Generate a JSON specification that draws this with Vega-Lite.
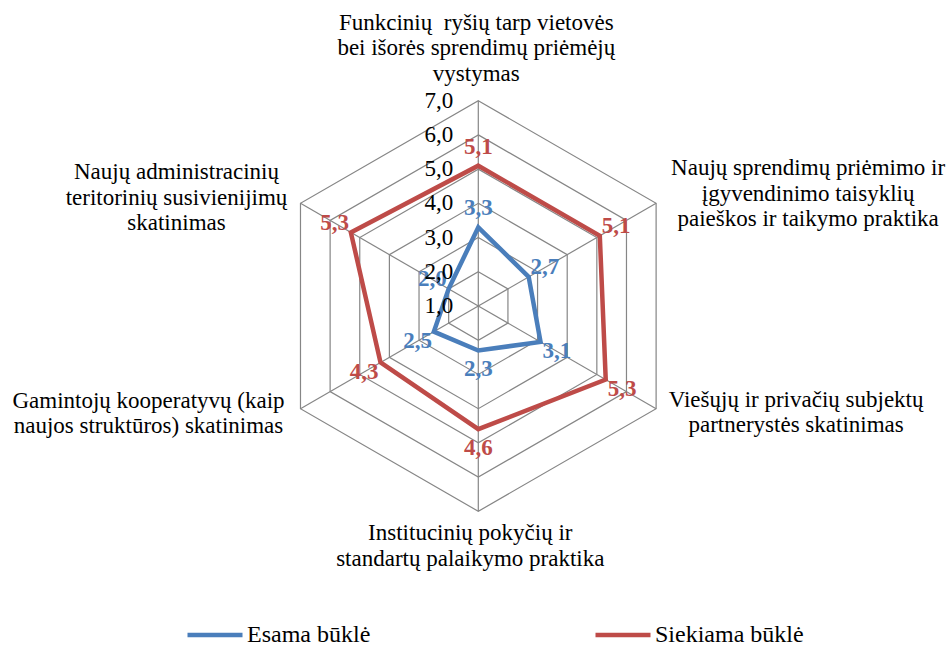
{
  "$schema": "https://vega.github.io/schema/vega-lite/v6.json",
  "width": 949,
  "height": 646,
  "autosize": {"type": "none"},
  "padding": 0,
  "background": "white",
  "config": {"view": {"stroke": null}, "font": "Liberation Serif", "text": {"font": "Liberation Serif"}},
  "datasets": {
    "axes": [
      {"k": 0, "label": "Funkcinių\u00a0 ryšių tarp vietovės\nbei išorės sprendimų priėmėjų\nvystymas"},
      {"k": 1, "label": "Naujų sprendimų priėmimo ir\nįgyvendinimo taisyklių\npaieškos ir taikymo praktika"},
      {"k": 2, "label": "Viešųjų ir privačių subjektų\npartnerystės skatinimas"},
      {"k": 3, "label": "Institucinių pokyčių ir\nstandartų palaikymo praktika"},
      {"k": 4, "label": "Gamintojų kooperatyvų (kaip\nnaujos struktūros) skatinimas"},
      {"k": 5, "label": "Naujų administracinių\nteritorinių susivienijimų\nskatinimas"}
    ],
    "ticks": [
      {"v": 1, "k": [0, 1, 2, 3, 4, 5]},
      {"v": 2, "k": [0, 1, 2, 3, 4, 5]},
      {"v": 3, "k": [0, 1, 2, 3, 4, 5]},
      {"v": 4, "k": [0, 1, 2, 3, 4, 5]},
      {"v": 5, "k": [0, 1, 2, 3, 4, 5]},
      {"v": 6, "k": [0, 1, 2, 3, 4, 5]},
      {"v": 7, "k": [0, 1, 2, 3, 4, 5]}
    ],
    "series": [
      {"series": "Esama būklė", "k": 0, "value": 3.3},
      {"series": "Esama būklė", "k": 1, "value": 2.7},
      {"series": "Esama būklė", "k": 2, "value": 3.1},
      {"series": "Esama būklė", "k": 3, "value": 2.3},
      {"series": "Esama būklė", "k": 4, "value": 2.5},
      {"series": "Esama būklė", "k": 5, "value": 2.0},
      {"series": "Siekiama būklė", "k": 0, "value": 5.1},
      {"series": "Siekiama būklė", "k": 1, "value": 5.1},
      {"series": "Siekiama būklė", "k": 2, "value": 5.3},
      {"series": "Siekiama būklė", "k": 3, "value": 4.6},
      {"series": "Siekiama būklė", "k": 4, "value": 4.3},
      {"series": "Siekiama būklė", "k": 5, "value": 5.3}
    ]
  },
  "resolve": {"legend": {"color": "independent"}},
  "layer": [
    {
      "data": {"name": "ticks"},
      "transform": [
        {"filter": "datum.v > 1"},
        {"flatten": ["k"]},
        {"calculate": "(datum.v - 1) * sin(datum.k * PI / 3)", "as": "x"},
        {"calculate": "(datum.v - 1) * cos(datum.k * PI / 3)", "as": "y"}
      ],
      "mark": {"type": "line", "interpolate": "linear-closed", "stroke": "#868686", "strokeWidth": 1.2},
      "encoding": {
        "x": {"field": "x", "type": "quantitative", "scale": {"domain": [-13.977, 13.755], "nice": false, "zero": false}, "axis": null},
        "y": {"field": "y", "type": "quantitative", "scale": {"domain": [-9.936, 8.942], "nice": false, "zero": false}, "axis": null},
        "detail": {"field": "v", "type": "nominal"},
        "order": {"field": "k", "type": "quantitative"}
      }
    },
    {
      "data": {"name": "axes"},
      "transform": [
        {"calculate": "0", "as": "x0"},
        {"calculate": "0", "as": "y0"},
        {"calculate": "6 * sin(datum.k * PI / 3)", "as": "x"},
        {"calculate": "6 * cos(datum.k * PI / 3)", "as": "y"}
      ],
      "mark": {"type": "rule", "stroke": "#868686", "strokeWidth": 1.2},
      "encoding": {
        "x": {"field": "x0", "type": "quantitative"},
        "y": {"field": "y0", "type": "quantitative"},
        "x2": {"field": "x"},
        "y2": {"field": "y"}
      }
    },
    {
      "data": {"name": "series"},
      "transform": [
        {"calculate": "(datum.value - 1) * sin(datum.k * PI / 3)", "as": "x"},
        {"calculate": "(datum.value - 1) * cos(datum.k * PI / 3)", "as": "y"}
      ],
      "mark": {"type": "line", "interpolate": "linear-closed", "strokeWidth": 4.5, "strokeJoin": "miter"},
      "encoding": {
        "x": {"field": "x", "type": "quantitative"},
        "y": {"field": "y", "type": "quantitative"},
        "order": {"field": "k", "type": "quantitative"},
        "color": {
          "field": "series",
          "type": "nominal",
          "scale": {"domain": ["Esama būklė", "Siekiama būklė"], "range": ["#4A7EBB", "#BE4B48"]},
          "legend": {
            "title": null,
            "orient": "none",
            "legendX": 185,
            "legendY": 605,
            "direction": "horizontal",
            "symbolType": "stroke",
            "symbolSize": 3025,
            "symbolStrokeWidth": 4.5,
            "labelFont": "Liberation Serif",
            "labelFontSize": 24,
            "labelColor": "black",
            "labelOffset": 2,
            "columnPadding": 215,
            "padding": 0,
            "labelLimit": 300
          }
        }
      }
    },
    {
      "data": {"name": "series"},
      "transform": [
        {"calculate": "(datum.value - 0.45) * sin(datum.k * PI / 3)", "as": "x"},
        {"calculate": "(datum.value - 0.45) * cos(datum.k * PI / 3)", "as": "y"},
        {"calculate": "replace(format(datum.value, '.1f'), '.', ',')", "as": "txt"}
      ],
      "mark": {"type": "text", "font": "Liberation Serif", "fontSize": 23, "fontWeight": "bold", "align": "center", "baseline": "middle"},
      "encoding": {
        "x": {"field": "x", "type": "quantitative"},
        "y": {"field": "y", "type": "quantitative"},
        "text": {"field": "txt", "type": "nominal"},
        "color": {"field": "series", "type": "nominal", "legend": null}
      }
    },
    {
      "data": {"name": "ticks"},
      "transform": [
        {"calculate": "0", "as": "x"},
        {"calculate": "datum.v - 1", "as": "y"},
        {"calculate": "replace(format(datum.v, '.1f'), '.', ',')", "as": "txt"}
      ],
      "mark": {"type": "text", "font": "Liberation Serif", "fontSize": 23, "align": "right", "baseline": "middle", "dx": -25, "color": "black"},
      "encoding": {
        "x": {"field": "x", "type": "quantitative"},
        "y": {"field": "y", "type": "quantitative"},
        "text": {"field": "txt", "type": "nominal"}
      }
    },
    {
      "data": {"name": "axes"},
      "transform": [
        {"calculate": "6 * sin(datum.k * PI / 3)", "as": "x"},
        {"calculate": "6 * cos(datum.k * PI / 3)", "as": "y"}
      ],
      "mark": {
        "type": "text",
        "font": "Liberation Serif",
        "fontSize": 23,
        "lineHeight": 25.5,
        "lineBreak": "\n",
        "align": "center",
        "baseline": "middle",
        "color": "black",
        "dx": {"expr": "[-2, 152, 140, -8, -152, -124][datum.k]"},
        "dy": {"expr": "[-78, -35, -9, 22, -8, -31][datum.k]"}
      },
      "encoding": {
        "x": {"field": "x", "type": "quantitative"},
        "y": {"field": "y", "type": "quantitative"},
        "text": {"field": "label", "type": "nominal"}
      }
    }
  ]
}
